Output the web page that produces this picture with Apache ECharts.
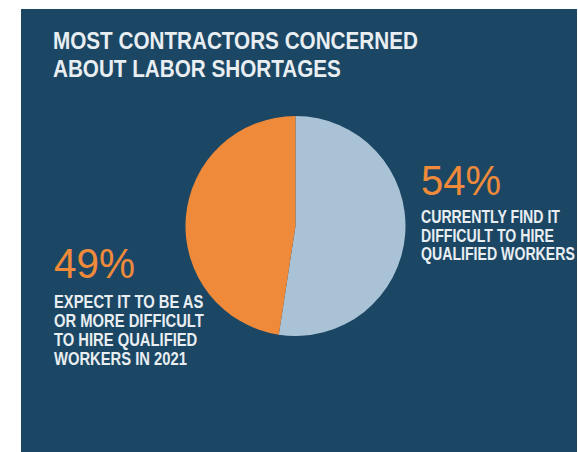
<!DOCTYPE html>
<html>
<head>
<meta charset="utf-8">
<script src="https://cdn.jsdelivr.net/npm/echarts@6/dist/echarts.min.js"></script>
<style>
html,body{margin:0;padding:0;background:#ffffff;}
#chart{width:578px;height:452px;}
</style>
</head>
<body>
<div id="chart"></div>
<script>
// ---- data ----
const titleLines = ['MOST CONTRACTORS CONCERNED', 'ABOUT LABOR SHORTAGES'];
const categories = ['Currently find it difficult to hire qualified workers', 'Expect it to be as or more difficult to hire qualified workers in 2021'];
const values = [54, 49];
const percentLabels = ['54%', '49%'];
const rightLines = ['CURRENTLY FIND IT', 'DIFFICULT TO HIRE', 'QUALIFIED WORKERS'];
const leftLines = ['EXPECT IT TO BE AS', 'OR MORE DIFFICULT', 'TO HIRE QUALIFIED', 'WORKERS IN 2021'];

const FONT = '"Liberation Sans", Arial, sans-serif';
const WHITE = '#e9eef2';
const ORANGE = '#ef8a3b';
const LIGHT = '#aac2d5';
const BG = '#1b4764';

// horizontal condensing so a block's widest line matches the reference width
const ctx = document.createElement('canvas').getContext('2d');
function condense(lines, font, targetWidth) {
  ctx.font = font;
  let w = 0;
  lines.forEach(l => { w = Math.max(w, ctx.measureText(l).width); });
  return w > 0 ? targetWidth / w : 1;
}
function block(lines, font, lineHeight, x, y, width, color, vAlign) {
  return {
    type: 'text', z: 10, x: x, y: y,
    scaleX: condense(lines, font, width), scaleY: 1,
    style: {x: 0, y: 0, text: lines.join('\n'), fill: color, font: font,
      lineHeight: lineHeight, verticalAlign: vAlign, align: 'left'}
  };
}

const titleFont = 'bold 24px ' + FONT;
const pctFont = '42px ' + FONT;
const bodyFont = 'bold 18px ' + FONT;

const chart = echarts.init(document.getElementById('chart'), null, {renderer: 'svg'});
chart.setOption({
  backgroundColor: '#ffffff',
  animation: false,
  graphic: [
    {type: 'rect', z: -10, shape: {x: 21, y: 9, width: 556, height: 443}, style: {fill: BG}},
    block(titleLines, titleFont, 28, 53, 26.5, 365, WHITE, 'top'),
    block([percentLabels[0]], pctFont, 42, 421, 181, 80, ORANGE, 'middle'),
    block(rightLines, bodyFont, 18.5, 421, 207.5, 154, WHITE, 'top'),
    block([percentLabels[1]], pctFont, 42, 54, 264, 81, ORANGE, 'middle'),
    block(leftLines, bodyFont, 19, 54, 292, 150, WHITE, 'top')
  ],
  series: [{
    type: 'pie',
    center: [295.5, 226],
    radius: [0, 110],
    startAngle: 90,
    clockwise: true,
    label: {show: false},
    labelLine: {show: false},
    emphasis: {disabled: true},
    itemStyle: {borderWidth: 0},
    data: categories.map((c, i) => ({name: c, value: values[i], itemStyle: {color: i === 0 ? LIGHT : ORANGE}}))
  }]
});
</script>
</body>
</html>
